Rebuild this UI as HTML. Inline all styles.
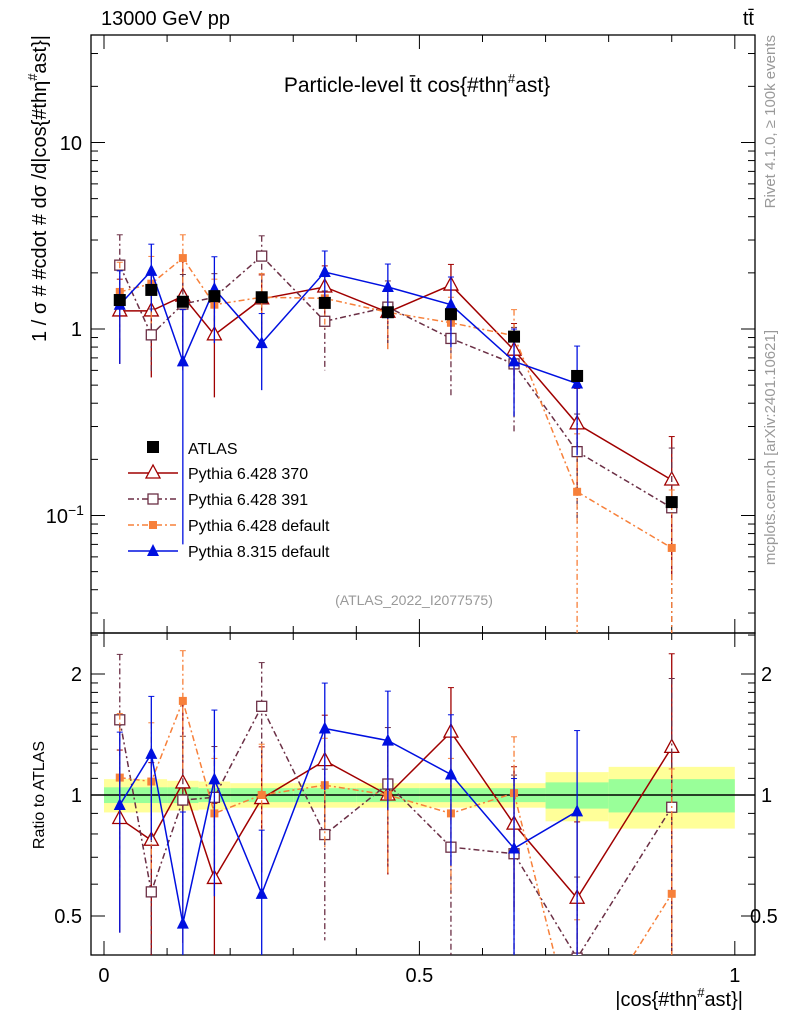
<!DOCTYPE html>
<html style="overflow:hidden;width:786px;height:1024px"><head><meta charset="utf-8"><style>
body{margin:0;background:#fff;overflow:hidden;width:786px;height:1024px}
svg{font-family:"Liberation Sans",sans-serif;display:block;overflow:hidden}
</style></head><body>
<svg id="c" width="786" height="1024" xmlns="http://www.w3.org/2000/svg"></svg>
<script>
const binEdges=[0,0.05,0.1,0.15,0.2,0.3,0.4,0.5,0.6,0.7,0.8,1.0];
const xCenters=[0.025,0.075,0.125,0.175,0.25,0.35,0.45,0.55,0.65,0.75,0.9];
const atlas=[1.43,1.62,1.40,1.50,1.48,1.38,1.23,1.20,0.91,0.56,0.118];
const bandStat=[0.045,0.045,0.045,0.04,0.04,0.04,0.04,0.04,0.04,0.075,0.095];
const bandTot=[0.095,0.095,0.085,0.08,0.07,0.07,0.07,0.07,0.07,0.14,0.175];
const p370=[1.25,1.25,1.5,0.93,1.45,1.68,1.23,1.72,0.77,0.31,0.155];
const p370err=[0.6,0.7,0.9,0.5,0.5,0.5,0.45,0.5,0.3,0.17,0.11];
const p391=[2.2,0.93,1.36,1.48,2.46,1.10,1.31,0.89,0.65,0.22,0.11];
const p391err=[1.0,0.35,0.6,0.5,0.7,0.5,0.5,0.45,0.37,0.13,0.12];
const pdef=[1.58,1.75,2.4,1.35,1.48,1.46,1.23,1.08,0.92,0.134,0.067];
const pdeferr=[0.7,0.7,0.8,0.5,0.5,0.45,0.45,0.4,0.35,0.14,0.07];
const p8=[1.35,2.05,0.67,1.64,0.84,2.02,1.68,1.35,0.67,0.51,null];
const p8err=[0.7,0.8,0.6,0.8,0.37,0.6,0.55,0.55,0.33,0.3,null];
const NS="http://www.w3.org/2000/svg";
const svg=document.getElementById('c');
function el(t,a,p){const e=document.createElementNS(NS,t);for(const k in a)e.setAttribute(k,a[k]);(p||svg).appendChild(e);return e;}
const X0=91,X1=755,MT=35,MB=633,RB=955;
const xmin=-0.0206,xmax=1.032;
const xs=v=>X0+(v-xmin)/(xmax-xmin)*(X1-X0);
const ys=v=>329-Math.log10(v)*186.5;
const yr=v=>795-Math.log2(v)*121;
function txt(x,y,s,a,name){const t=el('text',Object.assign({x:x,y:y,'font-size':20,fill:'#000'},a||{}));t.textContent=s;return t;}
function ts(t,s,a){const e=el('tspan',a||{},t);e.textContent=s;return e;}
const defs=el('defs',{});
const c1=el('clipPath',{id:'cm'},defs);el('rect',{x:X0,y:MT,width:X1-X0,height:MB-MT},c1);
const c2=el('clipPath',{id:'cr'},defs);el('rect',{x:X0,y:MB,width:X1-X0,height:RB-MB},c2);
const gb=el('g',{'clip-path':'url(#cr)'});

for(let i=0;i<xCenters.length;i++){
 const xa=xs(binEdges[i]),xb=xs(binEdges[i+1]);
 el('rect',{x:xa,y:yr(1+bandTot[i]),width:xb-xa,height:yr(1-bandTot[i])-yr(1+bandTot[i]),fill:'#ffff99'},gb);
 el('rect',{x:xa,y:yr(1+bandStat[i]),width:xb-xa,height:yr(1-bandStat[i])-yr(1+bandStat[i]),fill:'#99ff99'},gb);
}
el('line',{x1:X0,x2:X1,y1:yr(1),y2:yr(1),stroke:'#000','stroke-width':1.5});
const f1=el('rect',{x:X0,y:MT,width:X1-X0,height:MB-MT,fill:'none',stroke:'#000','stroke-width':1.3});

const f2=el('rect',{x:X0,y:MB,width:X1-X0,height:RB-MB,fill:'none',stroke:'#000','stroke-width':1.3});

for(let k=0;k<=10;k++){const v=k/10,x=xs(v),L=(k%5==0)?14:7;
 for(const [yt,yb] of [[MT,MB],[MB,RB]]){el('line',{x1:x,x2:x,y1:yb,y2:yb-L,stroke:'#000'});el('line',{x1:x,x2:x,y1:yt,y2:yt+L,stroke:'#000'});}
}
[[0,'0'],[0.5,'0.5'],[1,'1']].forEach(([v,s])=>txt(xs(v),982,s,{'text-anchor':'middle'},'x-tick-label'));
for(let d=-2;d<=1;d++)for(let m=1;m<=9;m++){const v=m*Math.pow(10,d);if(v<0.0236||v>37.9)continue;const y=ys(v),L=m==1?14:7;
 el('line',{x1:X0,x2:X0+L,y1:y,y2:y,stroke:'#000'});el('line',{x1:X1,x2:X1-L,y1:y,y2:y,stroke:'#000'});}
txt(82,150,'10',{'text-anchor':'end'},'y-tick-label');
txt(82,336,'1',{'text-anchor':'end'},'y-tick-label');
txt(68,523,'10',{'text-anchor':'end'},'y-tick-label');
txt(68,515,'−1',{'font-size':14},'y-tick-exponent');
for(const v of [0.5,0.6,0.7,0.8,0.9,1,1.1,1.2,1.3,1.4,1.5,1.6,1.7,1.8,1.9,2,2.5]){if(v>2.53)continue;const y=yr(v),L=(v==0.5||v==1||v==2)?14:7;
 el('line',{x1:X0,x2:X0+L,y1:y,y2:y,stroke:'#000'});el('line',{x1:X1,x2:X1-L,y1:y,y2:y,stroke:'#000'});}
[[2,'2'],[1,'1'],[0.5,'0.5']].forEach(([v,s])=>{txt(82,yr(v)+7,s,{'text-anchor':'end'},'ratio-tick-label');txt(s=='0.5'?750:761,yr(v)+7,s,{},'ratio-tick-label-right');});
txt(101,25,'13000 GeV pp',{},'energy-label');
txt(754,25,'tt̄',{'text-anchor':'end'},'process-label');
const tt=txt(417,92,'',{'text-anchor':'middle','font-size':21},'plot-title');
ts(tt,'Particle-level t̄t cos{#thη');ts(tt,'#',{dy:-9,'font-size':13});ts(tt,'ast}',{dy:9});
const xt=txt(743,1006,'',{'text-anchor':'end'},'x-axis-title');
ts(xt,'|cos{#thη');ts(xt,'#',{dy:-9,'font-size':13});ts(xt,'ast}|',{dy:9});
const yt=txt(0,0,'',{'text-anchor':'end',transform:'translate(46,35) rotate(-90)'},'y-axis-title');
ts(yt,'1 / σ # #cdot # dσ /d|cos{#thη');ts(yt,'#',{dy:-9,'font-size':13});ts(yt,'ast}|',{dy:9});
txt(0,0,'Ratio to ATLAS',{'text-anchor':'middle','font-size':16,transform:'translate(44,795) rotate(-90)'},'ratio-axis-title');
txt(0,0,'Rivet 4.1.0, ≥ 100k events',{'text-anchor':'end','font-size':15,fill:'#999',transform:'translate(775,35) rotate(-90)'},'rivet-label');
txt(0,0,'mcplots.cern.ch [arXiv:2401.10621]',{'text-anchor':'end','font-size':15,fill:'#999',transform:'translate(775,330) rotate(-90)'},'mcplots-label');
txt(414,605,'(ATLAS_2022_I2077575)',{'text-anchor':'middle','font-size':14,fill:'#999'},'analysis-id');
function marker(g,type,x,y,col){
 if(type=='sq')el('rect',{x:x-6,y:y-6,width:12,height:12,fill:'#000'},g);
 else if(type=='tri')el('polygon',{points:`${x},${y-8} ${x-7},${y+5} ${x+7},${y+5}`,fill:'#fff',stroke:col,'stroke-width':1.3},g);
 else if(type=='osq')el('rect',{x:x-5,y:y-5,width:10,height:10,fill:'#fff',stroke:col,'stroke-width':1.3},g);
 else if(type=='fsq')el('rect',{x:x-4,y:y-4,width:8,height:8,fill:col},g);
 else if(type=='ftri')el('polygon',{points:`${x},${y-7} ${x-6},${y+5} ${x+6},${y+5}`,fill:col},g);
}
const series=[
 {name:'pythia-6428-370',vals:p370,err:p370err,col:'#a00000',dash:'',m:'tri',lab:'Pythia 6.428 370'},
 {name:'pythia-6428-391',vals:p391,err:p391err,col:'#6b2f45',dash:'6,3,2,3',m:'osq',lab:'Pythia 6.428 391'},
 {name:'pythia-6428-default',vals:pdef,err:pdeferr,col:'#f7803a',dash:'6,3,2,3',m:'fsq',lab:'Pythia 6.428 default'},
 {name:'pythia-8315-default',vals:p8,err:p8err,col:'#0010e0',dash:'',m:'ftri',lab:'Pythia 8.315 default'}];
series.forEach(s=>{
 for(const [clip,yf,ratio] of [['cm',ys,false],['cr',yr,true]]){
  const g=el('g',{'clip-path':`url(#${clip})`});
  
  let pts=[];
  xCenters.forEach((xc,i)=>{if(s.vals[i]==null)return;const d=ratio?atlas[i]:1;const v=s.vals[i]/d,e=s.err[i]/d;
   const x=xs(xc);pts.push(x+','+yf(v));
   const lo=Math.max(v-e,1e-4);
   el('line',{x1:x,x2:x,y1:yf(v+e),y2:yf(lo),stroke:s.col,'stroke-width':1.3,'stroke-dasharray':s.dash},g);
   el('line',{x1:x-3,x2:x+3,y1:yf(v+e),y2:yf(v+e),stroke:s.col},g);});
  el('polyline',{points:pts.join(' '),fill:'none',stroke:s.col,'stroke-width':1.5,'stroke-dasharray':s.dash},g);
  xCenters.forEach((xc,i)=>{if(s.vals[i]==null)return;const d=ratio?atlas[i]:1;marker(g,s.m,xs(xc),yf(s.vals[i]/d),s.col);});
 }
});
const ga=el('g',{'clip-path':'url(#cm)'});

xCenters.forEach((xc,i)=>marker(ga,'sq',xs(xc),ys(atlas[i])));
const lg=el('g',{});
marker(lg,'sq',153,447);txt(188,454,'ATLAS',{'font-size':16},'legend-entry');
series.forEach((s,i)=>{const y=473+i*26;
 el('line',{x1:128,x2:178,y1:y,y2:y,stroke:s.col,'stroke-width':1.5,'stroke-dasharray':s.dash},lg);
 marker(lg,s.m,153,y,s.col);txt(188,y+6,s.lab,{'font-size':16},'legend-entry');});
</script>
</body></html>
